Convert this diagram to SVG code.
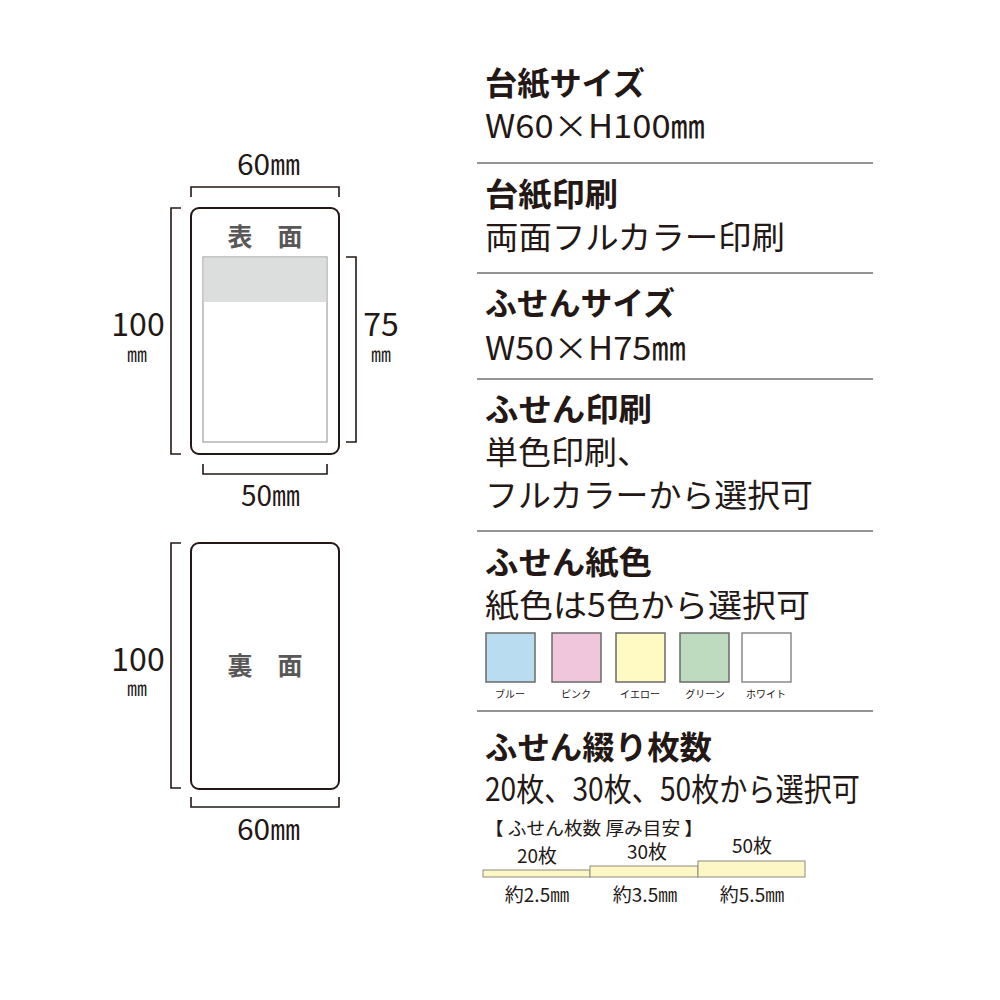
<svg xmlns="http://www.w3.org/2000/svg" width="1000" height="1000" viewBox="0 0 1000 1000">
<style>
.t{font-family:"Noto Sans CJK JP","Noto Sans",sans-serif;fill:#231815}
.h{font-size:32px;font-weight:bold}
.b{font-size:32px}
.unit{font-size:20px}
.face{font-family:"Noto Sans CJK JP",sans-serif;font-size:25px;font-weight:bold;fill:#595757}
.br{fill:none;stroke:#231815;stroke-width:1.6}
.card{fill:#fff;stroke:#231815;stroke-width:2}
.sep{stroke:#727171;stroke-width:1.6}
.sw{stroke:#6a6a6a;stroke-width:1.5}
.lbl{font-family:"Noto Sans CJK JP",sans-serif;font-size:10px;fill:#231815;text-anchor:middle}
.bar{fill:#fdf7c6;stroke:#8c8c7c;stroke-width:1}
.s{font-size:19px}
</style>
<g id="front">
<rect class="card" x="191" y="208" width="148" height="246" rx="8"/>
<rect x="203" y="257" width="124" height="185" fill="#fff" stroke="#9fa0a0" stroke-width="1.2"/>
<rect x="203.6" y="257.6" width="122.8" height="44.4" fill="#dcdddd"/>
<text class="face" x="265" y="246" text-anchor="middle">表　面</text>
</g>
<g id="back">
<rect class="card" x="191" y="543" width="148" height="246" rx="8"/>
<text class="face" x="265" y="675" text-anchor="middle">裏　面</text>
</g>
<g id="dimensions">
<path class="br" d="M191,197V187H339V197"/>
<path class="br" d="M181,208H171V454H181"/>
<path class="br" d="M346,257H356V442H346"/>
<path class="br" d="M203,464V474H327V464"/>
<path class="br" d="M181,543H171V788H181"/>
<path class="br" d="M191,797V807H339V797"/>
<text class="t" x="237" y="175" font-size="28" textLength="63" lengthAdjust="spacingAndGlyphs">60㎜</text>
<text class="t" x="138" y="336" font-size="32" text-anchor="middle">100</text>
<text class="t unit" x="137" y="362" text-anchor="middle">㎜</text>
<text class="t" x="381" y="336" font-size="32" text-anchor="middle">75</text>
<text class="t unit" x="381" y="362" text-anchor="middle">㎜</text>
<text class="t" x="241" y="506" font-size="28" textLength="59" lengthAdjust="spacingAndGlyphs">50㎜</text>
<text class="t" x="138" y="671" font-size="32" text-anchor="middle">100</text>
<text class="t unit" x="137" y="696" text-anchor="middle">㎜</text>
<text class="t" x="237" y="840" font-size="28" textLength="63" lengthAdjust="spacingAndGlyphs">60㎜</text>
</g>
<g id="separators">
<line class="sep" x1="477" y1="163" x2="873" y2="163"/>
<line class="sep" x1="477" y1="273" x2="873" y2="273"/>
<line class="sep" x1="477" y1="379" x2="873" y2="379"/>
<line class="sep" x1="477" y1="531" x2="873" y2="531"/>
<line class="sep" x1="477" y1="711" x2="873" y2="711"/>
</g>
<g id="mount-size">
<text class="t h" x="485" y="95" textLength="160" lengthAdjust="spacingAndGlyphs">台紙サイズ</text>
<text class="t b" x="485" y="138" textLength="220" lengthAdjust="spacingAndGlyphs">W60×H100㎜</text>
</g>
<g id="mount-print">
<text class="t h" x="485" y="206" textLength="133" lengthAdjust="spacingAndGlyphs">台紙印刷</text>
<text class="t b" x="485" y="249" textLength="300" lengthAdjust="spacingAndGlyphs">両面フルカラー印刷</text>
</g>
<g id="sticky-size">
<text class="t h" x="485" y="315" textLength="190" lengthAdjust="spacingAndGlyphs">ふせんサイズ</text>
<text class="t b" x="485" y="360" textLength="201" lengthAdjust="spacingAndGlyphs">W50×H75㎜</text>
</g>
<g id="sticky-print">
<text class="t h" x="485" y="421" textLength="167" lengthAdjust="spacingAndGlyphs">ふせん印刷</text>
<text class="t b" x="485" y="464" textLength="165" lengthAdjust="spacingAndGlyphs">単色印刷、</text>
<text class="t b" x="485" y="507" textLength="328" lengthAdjust="spacingAndGlyphs">フルカラーから選択可</text>
</g>
<g id="sticky-color">
<text class="t h" x="485" y="574" textLength="167" lengthAdjust="spacingAndGlyphs">ふせん紙色</text>
<text class="t b" x="485" y="617" textLength="325" lengthAdjust="spacingAndGlyphs">紙色は5色から選択可</text>
<rect class="sw" x="486" y="633" width="49" height="49" fill="#b9dcf1"/>
<rect class="sw" x="552" y="633" width="49" height="49" fill="#f0c6dc"/>
<rect class="sw" x="616" y="633" width="49" height="49" fill="#fff9c4"/>
<rect class="sw" x="680" y="633" width="49" height="49" fill="#bfdbbf"/>
<rect x="742" y="633" width="49" height="49" fill="#fff" stroke="#8a8a8a" stroke-width="1.5"/>
<text class="lbl" x="510" y="698">ブルー</text>
<text class="lbl" x="576" y="698">ピンク</text>
<text class="lbl" x="640" y="698">イエロー</text>
<text class="lbl" x="705" y="698">グリーン</text>
<text class="lbl" x="766" y="698">ホワイト</text>
</g>
<g id="binding">
<text class="t h" x="485" y="759" textLength="227" lengthAdjust="spacingAndGlyphs">ふせん綴り枚数</text>
<text class="t b" x="485" y="801" textLength="375" lengthAdjust="spacingAndGlyphs">20枚、30枚、50枚から選択可</text>
<text class="t" x="485" y="835" font-size="18" textLength="218" lengthAdjust="spacingAndGlyphs">【 ふせん枚数 厚み目安 】</text>
<rect class="bar" x="483" y="870" width="107" height="7"/>
<rect class="bar" x="590" y="866" width="108" height="11"/>
<rect class="bar" x="698" y="861" width="107" height="16"/>
<text class="t s" x="537" y="863" text-anchor="middle">20枚</text>
<text class="t s" x="647" y="859" text-anchor="middle">30枚</text>
<text class="t s" x="752" y="853" text-anchor="middle">50枚</text>
<text class="t s" x="537" y="902" text-anchor="middle">約2.5㎜</text>
<text class="t s" x="645" y="902" text-anchor="middle">約3.5㎜</text>
<text class="t s" x="752" y="902" text-anchor="middle">約5.5㎜</text>
</g>
</svg>
